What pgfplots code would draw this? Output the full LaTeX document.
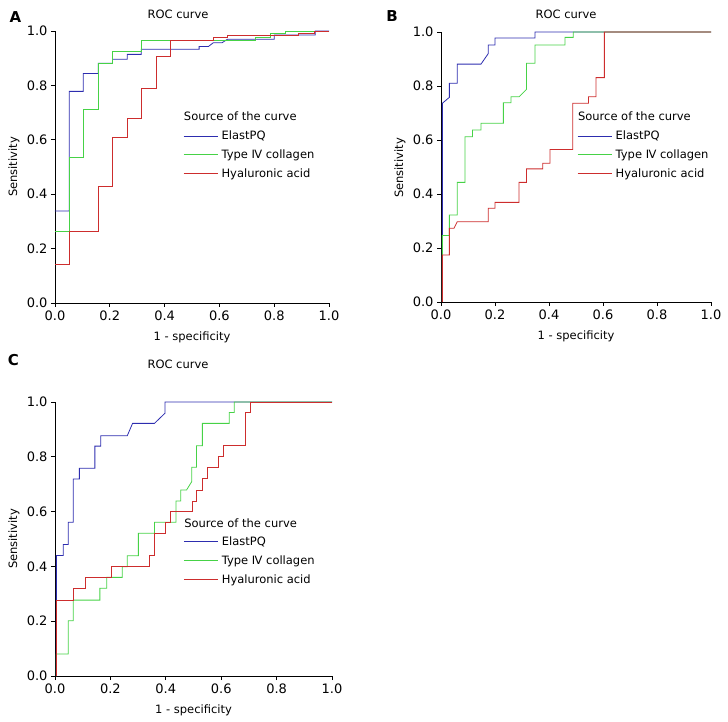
\documentclass[border=0pt]{standalone}
\usepackage{fontspec}
\setmainfont{DejaVu Sans}
\usepackage{pgfplots}
\pgfplotsset{compat=1.18}

\definecolor{rocblue}{RGB}{45,45,175}
\definecolor{rocgreen}{RGB}{70,210,70}
\definecolor{rocred}{RGB}{205,45,45}

\pgfplotsset{
  rocax/.style={
    scale only axis, anchor=south west, clip=false,
    axis lines=left, axis line style={-, line width=0.8pt},
    xmin=0, xmax=1, ymin=0, ymax=1,
    xtick={0,0.2,0.4,0.6,0.8,1}, ytick={0,0.2,0.4,0.6,0.8,1},
    tick align=outside, major tick length=4pt,
    tick style={black, line width=0.8pt},
    tick label style={font=\fontsize{13}{15}\selectfont},
    /pgf/number format/fixed, /pgf/number format/fixed zerofill,
    /pgf/number format/precision=1, /pgf/number format/assume math mode=true,
    xlabel={1 - specificity}, ylabel={Sensitivity},
    every axis x label/.style={at={(axis description cs:0.5,0)}, anchor=center, yshift=-34pt,
      font=\fontsize{11.5}{13}\selectfont},
    every axis y label/.style={at={(axis description cs:0,0.5)}, xshift=-41pt, rotate=90, anchor=center,
      font=\fontsize{11.5}{13}\selectfont},
    legend style={draw=none, fill=none, inner sep=0pt, font=\fontsize{11.5}{13}\selectfont,
      anchor=north west, row sep=1.5pt, nodes={inner sep=3.6pt}},
    legend cell align=left,
    legend image code/.code={\draw[#1] (0pt,0pt) -- (34pt,0pt);},
    every axis plot/.append style={line width=0.8pt},
  }
}

\begin{document}
\begin{tikzpicture}
\useasboundingbox (0pt,0pt) rectangle (728pt,721pt);

% panel A
\begin{axis}[rocax, at={(55pt,418pt)}, width=274pt, height=272pt,
  legend style={at={(axis cs:0.467,0.647)}}]
\addplot[rocblue] coordinates {(0,0.338) (0.052,0.338) (0.052,0.778) (0.103,0.778) (0.103,0.844) (0.158,0.844) (0.158,0.881) (0.21,0.881) (0.21,0.896) (0.264,0.896) (0.264,0.914) (0.315,0.914) (0.315,0.933) (0.526,0.933) (0.526,0.943) (0.56,0.943) (0.578,0.957) (0.61,0.957) (0.63,0.97) (0.8,0.97) (0.8,0.985) (0.95,0.985) (0.95,1) (1,1)};
\addlegendentry{ElastPQ}
\addplot[rocgreen] coordinates {(0,0.262) (0.052,0.262) (0.052,0.537) (0.103,0.537) (0.103,0.712) (0.158,0.712) (0.158,0.881) (0.21,0.881) (0.21,0.924) (0.315,0.924) (0.315,0.967) (0.73,0.967) (0.73,0.975) (0.787,0.975) (0.787,0.99) (0.84,0.99) (0.84,0.997) (0.947,0.997) (0.947,1) (1,1)};
\addlegendentry{Type Ⅳ collagen}
\addplot[rocred] coordinates {(0,0.143) (0.052,0.143) (0.052,0.262) (0.158,0.262) (0.158,0.43) (0.21,0.43) (0.21,0.608) (0.264,0.608) (0.264,0.678) (0.315,0.678) (0.315,0.788) (0.369,0.788) (0.369,0.906) (0.42,0.906) (0.42,0.967) (0.578,0.967) (0.578,0.975) (0.63,0.975) (0.63,0.985) (0.89,0.985) (0.89,0.993) (0.947,0.993) (0.947,1) (1,1)};
\addlegendentry{Hyaluronic acid}
\node[anchor=west, inner sep=0pt, font=\fontsize{11.5}{13}\selectfont] at (axis cs:0.470,0.6875) {Source of the curve};
\node[font=\fontsize{11.5}{13}\selectfont] at (axis description cs:0.449,1.0625) {ROC curve};
\node[font=\bfseries\fontsize{15}{17}\selectfont] at (axis description cs:-0.144,1.052) {A};
\end{axis}

% panel B
\begin{axis}[rocax, at={(441pt,419pt)}, width=270pt, height=270pt,
  every axis y label/.append style={xshift=-1pt},
  legend style={at={(axis cs:0.504,0.648)}}]
\addplot[rocblue] coordinates {(0.005,0) (0.005,0.736) (0.031,0.758) (0.031,0.81) (0.06,0.81) (0.06,0.881) (0.148,0.881) (0.175,0.92) (0.175,0.952) (0.2,0.952) (0.2,0.978) (0.348,0.978) (0.348,1) (1,1)};
\addlegendentry{ElastPQ}
\addplot[rocgreen] coordinates {(0.005,0) (0.005,0.246) (0.031,0.246) (0.031,0.322) (0.06,0.322) (0.06,0.443) (0.089,0.443) (0.089,0.612) (0.117,0.612) (0.117,0.637) (0.148,0.637) (0.148,0.662) (0.231,0.662) (0.231,0.738) (0.259,0.738) (0.259,0.76) (0.289,0.76) (0.317,0.788) (0.317,0.884) (0.348,0.884) (0.348,0.952) (0.459,0.952) (0.459,0.98) (0.49,0.98) (0.49,1) (1,1)};
\addlegendentry{Type Ⅳ collagen}
\addplot[rocred] coordinates {(0.005,0) (0.005,0.174) (0.031,0.174) (0.031,0.273) (0.048,0.273) (0.06,0.297) (0.175,0.297) (0.175,0.347) (0.2,0.347) (0.2,0.369) (0.289,0.369) (0.289,0.443) (0.317,0.443) (0.317,0.493) (0.377,0.493) (0.377,0.514) (0.404,0.514) (0.404,0.565) (0.488,0.565) (0.488,0.736) (0.546,0.736) (0.546,0.76) (0.574,0.76) (0.574,0.831) (0.605,0.831) (0.605,1) (1,1)};
\addlegendentry{Hyaluronic acid}
\node[anchor=west, inner sep=0pt, font=\fontsize{11.5}{13}\selectfont] at (axis cs:0.507,0.689) {Source of the curve};
\node[font=\fontsize{11.5}{13}\selectfont] at (axis description cs:0.463,1.067) {ROC curve};
\node[font=\bfseries\fontsize{15}{17}\selectfont] at (axis description cs:-0.181,1.059) {B};
\end{axis}

% panel C
\begin{axis}[rocax, at={(55pt,45pt)}, width=277pt, height=274pt,
  legend style={at={(axis cs:0.463,0.522)}}]
\addplot[rocblue] coordinates {(0.005,0) (0.005,0.44) (0.03,0.44) (0.03,0.48) (0.048,0.48) (0.048,0.561) (0.066,0.561) (0.066,0.719) (0.088,0.719) (0.088,0.758) (0.144,0.758) (0.144,0.839) (0.165,0.839) (0.165,0.877) (0.261,0.877) (0.28,0.922) (0.359,0.922) (0.397,0.959) (0.397,1) (1,1)};
\addlegendentry{ElastPQ}
\addplot[rocgreen] coordinates {(0.005,0) (0.005,0.08) (0.048,0.08) (0.048,0.202) (0.066,0.202) (0.066,0.277) (0.162,0.277) (0.162,0.32) (0.187,0.32) (0.187,0.36) (0.243,0.36) (0.243,0.399) (0.261,0.399) (0.261,0.439) (0.301,0.439) (0.301,0.521) (0.359,0.521) (0.359,0.561) (0.437,0.561) (0.437,0.639) (0.454,0.639) (0.454,0.679) (0.475,0.679) (0.494,0.71) (0.494,0.762) (0.511,0.762) (0.511,0.84) (0.532,0.84) (0.532,0.922) (0.629,0.922) (0.629,0.962) (0.647,0.962) (0.647,1) (1,1)};
\addlegendentry{Type Ⅳ collagen}
\addplot[rocred] coordinates {(0.005,0) (0.005,0.277) (0.066,0.277) (0.066,0.32) (0.108,0.32) (0.108,0.36) (0.205,0.36) (0.205,0.399) (0.339,0.399) (0.339,0.439) (0.359,0.439) (0.359,0.521) (0.397,0.521) (0.397,0.561) (0.418,0.561) (0.418,0.6) (0.496,0.6) (0.496,0.639) (0.511,0.639) (0.511,0.679) (0.532,0.679) (0.532,0.722) (0.551,0.722) (0.551,0.762) (0.59,0.762) (0.59,0.8) (0.608,0.8) (0.608,0.84) (0.688,0.84) (0.688,0.962) (0.706,0.962) (0.706,1) (1,1)};
\addlegendentry{Hyaluronic acid}
\node[anchor=west, inner sep=0pt, font=\fontsize{11.5}{13}\selectfont] at (axis cs:0.466,0.558) {Source of the curve};
\node[font=\fontsize{11.5}{13}\selectfont] at (axis description cs:0.444,1.139) {ROC curve};
\node[font=\bfseries\fontsize{15}{17}\selectfont] at (axis description cs:-0.150,1.153) {C};
\end{axis}
\end{tikzpicture}
\end{document}
